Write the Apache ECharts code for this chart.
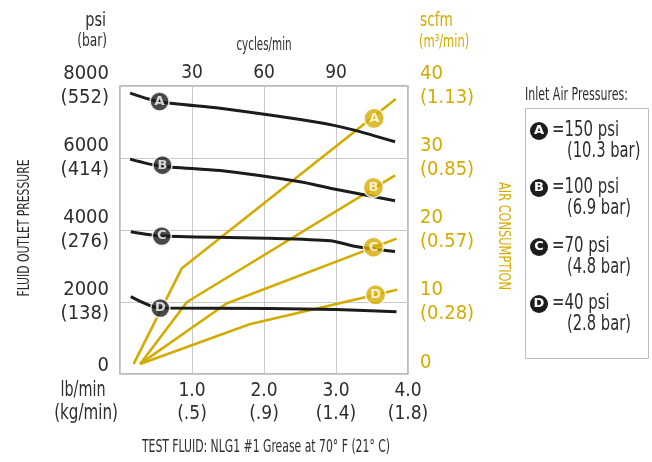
<!DOCTYPE html>
<html><head><meta charset="utf-8">
<script src="https://cdn.jsdelivr.net/npm/echarts@6/dist/echarts.min.js"></script>
<style>html,body{margin:0;padding:0;background:#fff}#c{width:652px;height:462px}</style>
</head><body><div id="c"></div><script>
const FONT = "'Liberation Sans Narrow','DejaVu Sans Condensed','Roboto Condensed',sans-serif";
const YEL = '#d4ab00';
const BLK = '#1c1c1c';
const TXT = '#2e2e2e';

const curveLetters = ['A', 'B', 'C', 'D'];

// Fluid outlet pressure (psi) vs flow (lb/min)
const pressureA = [[0.14, 7800], [0.55, 7560], [1.39, 7380], [2.78, 6980], [3.24, 6780], [3.82, 6450]];
const pressureB = [[0.14, 5970], [0.55, 5780], [1.39, 5650], [2.5, 5340], [2.92, 5160], [3.82, 4810]];
const pressureC = [[0.15, 3950], [0.58, 3830], [2.08, 3770], [2.92, 3700], [3.28, 3540], [3.82, 3400]];
const pressureD = [[0.15, 2150], [0.56, 1830], [2.08, 1820], [3.0, 1790], [3.84, 1730]];

// Air consumption (scfm) vs flow (lb/min)
const airA = [[0.19, 1.4], [0.86, 14.7], [3.83, 38.2]];
const airB = [[0.28, 1.4], [0.93, 10.0], [3.82, 27.6]];
const airC = [[0.28, 1.4], [1.48, 9.8], [3.84, 18.8]];
const airD = [[0.28, 1.4], [1.8, 6.9], [3.85, 11.7]];

// Curve letter markers
const pressureMarkers = [[0.55, 7570], [0.59, 5800], [0.58, 3830], [0.56, 1830]];
const airMarkers = [[3.53, 35.5], [3.52, 25.9], [3.52, 17.6], [3.55, 11.0]];

// Tick labels
const leftTickMain = ['0', '2000', '4000', '6000', '8000'];
const leftTickSub = ['', '(138)', '(276)', '(414)', '(552)'];
const rightTickMain = ['0', '10', '20', '30', '40'];
const rightTickSub = ['', '(0.28)', '(0.57)', '(0.85)', '(1.13)'];
const bottomTickMain = ['', '1.0', '2.0', '3.0', '4.0'];
const bottomTickSub = ['', '(.5)', '(.9)', '(1.4)', '(1.8)'];
const topTickLabels = ['', '30', '60', '90', ''];

// Legend
const legendPsi = ['=150 psi', '=100 psi', '=70 psi', '=40 psi'];
const legendBar = ['(10.3 bar)', '(6.9 bar)', '(4.8 bar)', '(2.8 bar)'];

const pressureCurves = [pressureA, pressureB, pressureC, pressureD];
const airCurves = [airA, airB, airC, airD];

const chart = echarts.init(document.getElementById('c'));

const series = [];
pressureCurves.forEach((d, i) => {
  series.push({
    type: 'line', name: 'P' + curveLetters[i], data: d, xAxisIndex: 0, yAxisIndex: 0,
    showSymbol: false, smooth: 0.25, lineStyle: { color: BLK, width: 3 }, z: 3, silent: true
  });
});
airCurves.forEach((d, i) => {
  series.push({
    type: 'line', name: 'Q' + curveLetters[i], data: d, xAxisIndex: 0, yAxisIndex: 1,
    showSymbol: false, smooth: false, lineStyle: { color: YEL, width: 2.6 }, z: 2, silent: true
  });
});
series.push({
  type: 'scatter', xAxisIndex: 0, yAxisIndex: 0, z: 5, silent: true,
  data: pressureMarkers.map((p, i) => ({ value: p, name: curveLetters[i] })),
  symbol: 'circle', symbolSize: 19,
  itemStyle: { color: BLK, borderColor: '#fff', borderWidth: 1.6 },
  label: { show: true, position: 'inside', formatter: p => p.name, color: '#fff', fontWeight: 'bold', fontSize: 13, fontFamily: 'DejaVu Sans' }
});
series.push({
  type: 'scatter', xAxisIndex: 0, yAxisIndex: 1, z: 5, silent: true,
  data: airMarkers.map((p, i) => ({ value: p, name: curveLetters[i] })),
  symbol: 'circle', symbolSize: 20,
  itemStyle: { color: YEL, borderColor: '#fff', borderWidth: 1.4 },
  label: { show: true, position: 'inside', formatter: p => p.name, color: '#fff', fontWeight: 'bold', fontSize: 13, fontFamily: 'DejaVu Sans' }
});

function txt(x, y, text, size, fill, align, sx, rot) {
  return {
    type: 'text', x: x, y: y, scaleX: sx || 1, rotation: rot || 0,
    style: { text: text, font: size + 'px ' + FONT, fill: fill, align: align || 'left', verticalAlign: 'middle' }
  };
}

const legendGraphics = [];
legendGraphics.push(txt(525, 95, 'Inlet Air Pressures:', 18, TXT, 'left', 0.68));
legendGraphics.push({ type: 'rect', shape: { x: 525.5, y: 108.5, width: 123, height: 250 }, style: { fill: 'none', stroke: '#bdbdbd', lineWidth: 1 } });
const legendY = [131, 188, 247, 304];
curveLetters.forEach((L, i) => {
  const cy = legendY[i];
  legendGraphics.push({ type: 'circle', shape: { cx: 539, cy: cy, r: 9 }, style: { fill: BLK } });
  legendGraphics.push({ type: 'text', x: 539, y: cy, style: { text: L, font: 'bold 13px DejaVu Sans', fill: '#fff', align: 'center', verticalAlign: 'middle' } });
  legendGraphics.push(txt(552, cy, legendPsi[i], 21, TXT, 'left', 0.79));
  legendGraphics.push(txt(567, cy + 21, legendBar[i], 21, TXT, 'left', 0.78));
});

const option = {
  backgroundColor: '#fff',
  animation: false,
  textStyle: { fontFamily: FONT },
  grid: { left: 120, right: 244, top: 86, bottom: 88, show: true, borderColor: '#a8a8a8', borderWidth: 1.5, backgroundColor: 'transparent' },
  xAxis: [
    {
      type: 'value', position: 'bottom', min: 0, max: 4, interval: 1,
      axisLine: { show: false }, axisTick: { show: false },
      splitLine: { show: true, lineStyle: { color: '#c8c8c8', width: 1 } },
      axisLabel: {
        margin: 6, lineHeight: 23, fontSize: 19, color: TXT, fontFamily: FONT,
        formatter: v => { const i = Math.round(v); return bottomTickMain[i] ? bottomTickMain[i] + '\n' + bottomTickSub[i] : ''; }
      }
    },
    {
      type: 'value', position: 'top', min: 0, max: 120, interval: 30,
      axisLine: { show: false }, axisTick: { show: false }, splitLine: { show: false },
      axisLabel: {
        margin: 3, fontSize: 19, color: TXT, fontFamily: FONT,
        formatter: v => topTickLabels[Math.round(v / 30)] || ''
      }
    }
  ],
  yAxis: [
    {
      type: 'value', position: 'left', min: 0, max: 8000, interval: 2000,
      axisLine: { show: false }, axisTick: { show: false },
      splitLine: { show: true, lineStyle: { color: '#c8c8c8', width: 1 } },
      axisLabel: {
        margin: 11, lineHeight: 24, fontSize: 20, color: TXT, fontFamily: FONT,
        formatter: v => { const i = Math.round(v / 2000); return i === 0 ? '{z|0}' : leftTickMain[i] + '\n' + leftTickSub[i]; },
        rich: { z: { fontSize: 20, color: TXT, fontFamily: FONT, padding: [0, 0, 16, 0] } }
      }
    },
    {
      type: 'value', position: 'right', min: 0, max: 40, interval: 10,
      axisLine: { show: false }, axisTick: { show: false }, splitLine: { show: false },
      axisLabel: {
        margin: 12, lineHeight: 24, fontSize: 20, color: YEL, fontFamily: FONT,
        formatter: v => { const i = Math.round(v / 10); return i === 0 ? '{z|0}' : rightTickMain[i] + '\n' + rightTickSub[i]; },
        rich: { z: { fontSize: 20, color: YEL, fontFamily: FONT, padding: [0, 0, 22, 0] } }
      }
    }
  ],
  graphic: [
    txt(106, 21, 'psi', 19, TXT, 'right', 0.85),
    txt(107, 42, '(bar)', 17, TXT, 'right', 0.8),
    txt(420, 21, 'scfm', 19, YEL, 'left', 0.8),
    txt(419, 43, '(m³/min)', 17, YEL, 'left', 0.75),
    txt(83, 391, 'lb/min', 21, TXT, 'center', 0.76),
    txt(86, 414, '(kg/min)', 21, TXT, 'center', 0.8),
    txt(264, 45, 'cycles/min', 18, TXT, 'center', 0.64),
    txt(266, 447, 'TEST FLUID: NLG1 #1 Grease at 70° F (21° C)', 18, TXT, 'center', 0.67),
    txt(25, 228, 'FLUID OUTLET PRESSURE', 16, TXT, 'center', 0.75, Math.PI / 2),
    txt(503, 236, 'AIR CONSUMPTION', 16, YEL, 'center', 0.79, -Math.PI / 2)
  ].concat(legendGraphics),
  series: series
};
chart.setOption(option);
</script></body></html>
